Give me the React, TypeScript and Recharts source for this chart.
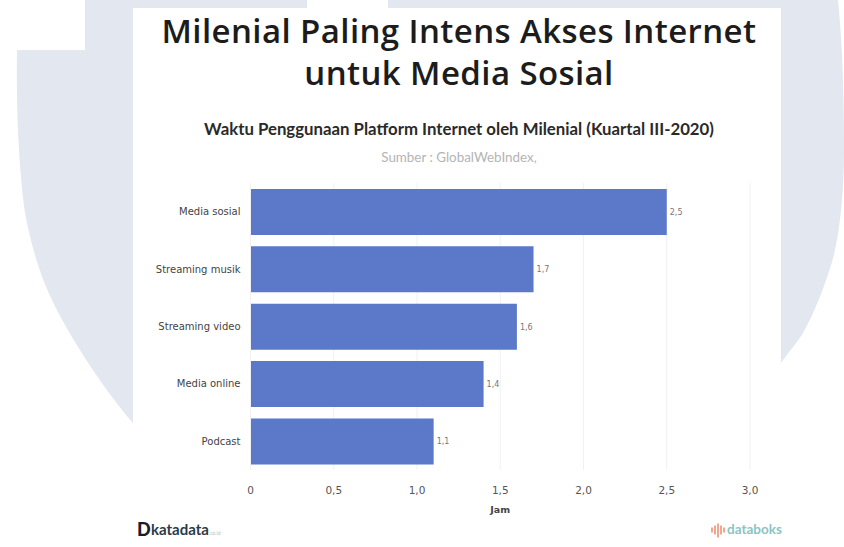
import React from "react";
import { BarChart, Bar, XAxis, YAxis, CartesianGrid, LabelList } from "recharts";

const categories = ["Media sosial", "Streaming musik", "Streaming video", "Media online", "Podcast"];
const hours = [2.5, 1.7, 1.6, 1.4, 1.1];
const xTicks = [0, 0.5, 1, 1.5, 2, 2.5, 3];

const rows = categories.map((name, i) => ({ name, hours: hours[i] }));

const TITLE_FONT = "'Open Sans', 'Noto Sans', sans-serif";
const SUB_FONT = "Lato, 'Noto Sans', sans-serif";
const AXIS_FONT = "'DejaVu Sans', Verdana, sans-serif";

// Indonesian number style: decimal comma, bare zero at the origin
const formatTick = (v: number) => (v === 0 ? "0" : v.toFixed(1).replace(".", ","));

function Backdrop() {
  return (
    <svg width={844} height={547} style={{ position: "absolute", left: 0, top: 0 }}>
      <rect width={844} height={547} fill="#ffffff" />
      <path
        d="M85 0 L85 50 L17 50 C16 110 19 170 25 213 C32 250 42 280 52 300 C66 330 100 385 133 423
           L781 363 C790 350 797 343 803 333 C815 312 825 285 832 262 C840 235 844 190 844 150
           C844 90 842 40 838 0 L388 0 L388 8 L307 8 L307 0 Z"
        fill="#e3e7f0"
      />
      <rect x={133} y={8} width={648} height={539} fill="#ffffff" />
      <g textAnchor="middle">
        <text x={459} y={43} fontFamily={TITLE_FONT} fontSize={33} fontWeight={600} letterSpacing={0.4} fill="#1c1c1c">
          Milenial Paling Intens Akses Internet
        </text>
        <text x={459} y={85} fontFamily={TITLE_FONT} fontSize={33} fontWeight={600} letterSpacing={0.4} fill="#1c1c1c">
          untuk Media Sosial
        </text>
        <text x={459} y={135} fontFamily={SUB_FONT} fontSize={16.8} fontWeight={700} fill="#2a2a2a">
          Waktu Penggunaan Platform Internet oleh Milenial (Kuartal III-2020)
        </text>
        <text x={459} y={162} fontFamily={SUB_FONT} fontSize={13.4} fill="#b4b4b4">
          Sumber : GlobalWebIndex,
        </text>
      </g>
      {/* katadata wordmark */}
      <g fontFamily={SUB_FONT}>
        <text x={137} y={536} fontSize={18} fontWeight={900} fill="#16202c">D</text>
        <text x={151} y={535} fontSize={15} fontWeight={700} fill="#2b3a48">katadata</text>
        <text x={209} y={535} fontSize={5} fill="#b8bec4">.co.id</text>
      </g>
      {/* databoks wordmark */}
      <g stroke="#e8825f" strokeWidth={1.4} strokeLinecap="round">
        <line x1={712} y1={528} x2={712} y2={532} />
        <line x1={715} y1={526} x2={715} y2={534} />
        <line x1={718} y1={524} x2={718} y2={537} />
        <line x1={721} y1={526} x2={721} y2={534} />
        <line x1={724} y1={528} x2={724} y2={532} />
      </g>
      <text x={727} y={534} fontFamily={SUB_FONT} fontSize={13.5} fontWeight={700} fill="#8cc4c0">
        databoks
      </text>
    </svg>
  );
}

export default function App() {
  return (
    <div style={{ position: "absolute", left: 0, top: 0, width: 844, height: 547, overflow: "hidden" }}>
      <Backdrop />
      <div style={{ position: "absolute", left: 0, top: 0 }}>
        <BarChart
          width={844}
          height={547}
          data={rows}
          layout="vertical"
          barCategoryGap="10.3%"
          margin={{ top: 183, right: 94, bottom: 34, left: 100 }}
        >
          <CartesianGrid horizontal={false} stroke="#f1f1f3" />
          <XAxis
            type="number"
            dataKey="hours"
            domain={[0, 3]}
            ticks={xTicks}
            tickFormatter={formatTick}
            axisLine={false}
            tickLine={false}
            tickMargin={11}
            height={43}
            tick={{ fontFamily: AXIS_FONT, fontSize: 10.5, fill: "#555555" }}
            label={{
              value: "Jam",
              position: "insideBottom",
              offset: 0,
              style: { fontFamily: AXIS_FONT, fontSize: 9.5, fontWeight: 700, fill: "#444444" },
            }}
          />
          <YAxis
            type="category"
            dataKey="name"
            width={150.5}
            axisLine={{ stroke: "#f1f1f3" }}
            tickLine={false}
            tickMargin={4}
            tick={{ fontFamily: AXIS_FONT, fontSize: 10, fill: "#444444" }}
          />
          <Bar dataKey="hours" fill="#5b79c8" isAnimationActive={false}>
            <LabelList
              dataKey="hours"
              position="right"
              offset={3}
              formatter={(v: number) => String(v).replace(".", ",")}
              style={{ fontFamily: AXIS_FONT, fontSize: 8, fill: "#777777" }}
            />
          </Bar>
        </BarChart>
      </div>
    </div>
  );
}
